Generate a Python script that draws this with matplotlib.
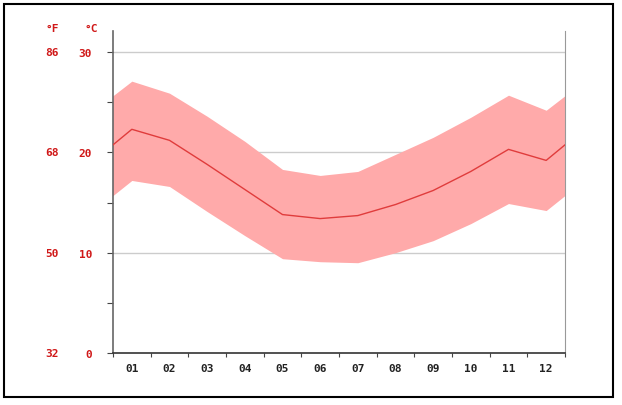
import matplotlib
matplotlib.use('Agg')
import matplotlib.pyplot as plt
from matplotlib.patches import Rectangle

months = ['01', '02', '03', '04', '05', '06', '07', '08', '09', '10', '11', '12']
t_mean = [22.3, 21.2, 18.8, 16.3, 13.8, 13.4, 13.7, 14.8, 16.2, 18.1, 20.3, 19.2]
t_max = [27.1, 25.9, 23.6, 21.1, 18.3, 17.7, 18.1, 19.8, 21.5, 23.5, 25.7, 24.2]
t_min = [17.2, 16.6, 14.1, 11.7, 9.4, 9.1, 9.0, 10.0, 11.2, 12.9, 14.9, 14.2]
c_ticks = [0, 10, 20, 30]
f_labels = ['32', '50', '68', '86']

red = '#d01818'
font = dict(family='DejaVu Sans Mono', fontweight='bold', fontsize=8)

fig = plt.figure(figsize=(6.22, 4.06), dpi=100)
ax = fig.add_axes([113 / 622, 52 / 406, 452 / 622, 322 / 406])

# wrap december / january so the curve runs to both edges
x = list(range(0, 14))
wrap = lambda v: [v[-1]] + v + [v[0]]
ax.fill_between(x, wrap(t_min), wrap(t_max), color='#ffaaaa', lw=0, zorder=2)
ax.plot(x, wrap(t_mean), color='#e03c3c', lw=1, zorder=3)

ax.set_xlim(0.5, 12.5)
ax.set_ylim(0, 32.1)
for c in c_ticks[1:]:
    ax.axhline(c, color='#cccccc', lw=1, zorder=1)

ax.set_yticks(range(0, 31, 5))
ax.set_yticklabels([str(v) if v in c_ticks else '' for v in range(0, 31, 5)], color=red, **font)
ax.set_xticks([i + 0.5 for i in range(13)])
ax.set_xticklabels([])
ax.set_xticks(range(1, 13), minor=True)
ax.set_xticklabels(months, minor=True, color='#222222', **font)
ax.tick_params(axis='x', which='minor', length=0, pad=7)
ax.tick_params(axis='x', which='major', length=3, direction='out', color='#444444')
ax.tick_params(axis='y', length=4, direction='out', color='#444444', pad=11)

ax.spines['top'].set_visible(False)
ax.spines['right'].set_color('#999999')
ax.spines['left'].set_color('#666666')
ax.spines['bottom'].set_color('#333333')
ax.spines['left'].set_linewidth(1.2)
ax.spines['bottom'].set_linewidth(1.2)

for c, f in zip(c_ticks, f_labels):
    ax.text(-61 / 452, c, f, transform=ax.get_yaxis_transform(), ha='center', va='center',
            color=red, **font)
fig.text(52 / 622, 1 - 29 / 406, '°F', ha='center', va='center', color=red, **font)
fig.text(91 / 622, 1 - 29 / 406, '°C', ha='center', va='center', color=red, **font)

fig.patches.append(Rectangle((4 / 622, 8 / 406), 609 / 622, 393 / 406, transform=fig.transFigure,
                             fill=False, ec='black', lw=1.5))

fig.savefig('out.png', dpi=100)
